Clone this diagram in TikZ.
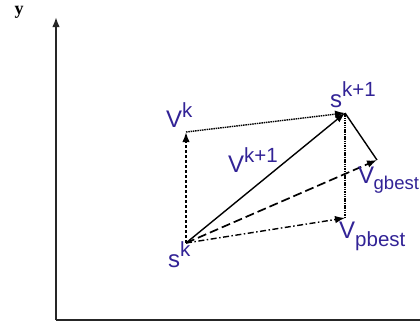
\documentclass[tikz,border=0pt]{standalone}
\usepackage{fontspec}
\setmainfont{Liberation Sans}
\newfontfamily\yfont{Liberation Serif}
\usetikzlibrary{arrows.meta}
\definecolor{lblue}{RGB}{50,35,150}
\newcommand{\mainsz}{\fontsize{24}{26}\selectfont}
\newcommand{\supsz}{\fontsize{20.5}{22}\selectfont}
\newcommand{\gsz}{\fontsize{18.5}{20}\selectfont}
\tikzset{
  axis/.style={line width=1.7pt, draw=black!85},
  tip/.style={-{Latex[length=10pt,width=7.5pt]}},
  vec/.style={line width=1.4pt},
  dots/.style={dash pattern=on 1.5pt off 0.8pt, line width=1.4pt},
  lbl/.style={text=lblue, inner sep=0pt, anchor=base west},
}
\begin{document}
\begin{tikzpicture}[x=1pt,y=-1pt]
\useasboundingbox (0,0) rectangle (420,327);
% points
\coordinate (o) at (56,320);
\coordinate (ytip) at (56,17);
\coordinate (xend) at (420,320);
\coordinate (sk) at (186,243);
\coordinate (vk) at (186,132);
\coordinate (sk1) at (345,113);
\coordinate (vg) at (377,160);
\coordinate (vp) at (345,218);
% axes
\draw[axis, tip] (o) -- (ytip);
\draw[axis] (o) -- (xend);
\node[inner sep=0pt, font=\yfont\bfseries\fontsize{18}{18}\selectfont] (ylab) at (19,12) {y};
% vectors
\draw[vec, tip, dash pattern=on 3pt off 2pt, line width=1.9pt] (sk) -- (vk);
\draw[vec, tip, dots] (vk) -- (sk1);
\draw[vec, tip] (sk) -- (sk1);
\draw[vec] (sk1) -- (vg);
\draw[dots, line width=1.1pt] (sk1) -- (vp);
\draw[vec, tip, dash pattern=on 9pt off 4pt, line width=1.7pt] (sk) -- (vg);
\draw[vec, tip, dash pattern=on 6pt off 2.5pt on 1.5pt off 2.5pt] (sk) -- (vp);
% labels
\node[lbl] (lvk) at (166,127) {\mainsz V\raisebox{0.38em}{\supsz k}};
\node[lbl] (lsk1) at (330,107) {\mainsz s\raisebox{0.45em}{\supsz k+1}};
\node[lbl] (lvk1) at (228,172) {\mainsz V\raisebox{0.38em}{\supsz k+1}};
\node[lbl] (lvg) at (358,183) {\mainsz V\kern-0.5pt\raisebox{-0.28em}{\gsz gbest}};
\node[lbl] (lvp) at (339,238) {\mainsz V\raisebox{-0.36em}{\supsz pbest}};
\node[lbl] (lsk) at (168,267) {\mainsz s\raisebox{0.45em}{\supsz k}};
\end{tikzpicture}
\end{document}
